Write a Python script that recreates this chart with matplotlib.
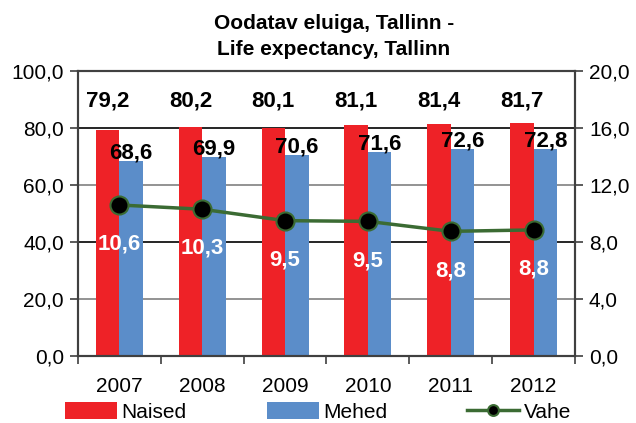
import numpy as np
import matplotlib
matplotlib.use("Agg")
import matplotlib.pyplot as plt

plt.rcParams['font.family'] = ['Liberation Sans', 'DejaVu Sans']

years = ['2007', '2008', '2009', '2010', '2011', '2012']
naised = [79.2, 80.2, 80.1, 81.1, 81.4, 81.7]
mehed = [68.6, 69.9, 70.6, 71.6, 72.6, 72.8]
vahe = [10.6, 10.3, 9.5, 9.45, 8.75, 8.85]
vahe_labels = ['10,6', '10,3', '9,5', '9,5', '8,8', '8,8']

red = '#EE2227'
blue = '#5B8DC9'
green = '#3B6B33'

fig = plt.figure(figsize=(6.36, 4.23), dpi=100)
ax = fig.add_axes([0.1226, 0.1584, 0.9041 - 0.1226, 0.832 - 0.1584])
ax2 = ax.twinx()

x = np.arange(len(years))
w = 0.284
ax.bar(x - w / 2, naised, w, color=red, zorder=2, label='Naised')
ax.bar(x + w / 2, mehed, w, color=blue, zorder=2, label='Mehed')

for i in range(len(years)):
    ax.text(x[i] - w / 2, 89.5, f"{naised[i]:.1f}".replace('.', ','), ha='center', va='center',
            fontsize=16, fontweight='bold', zorder=5)
    ax.text(x[i] + w / 2, mehed[i] + 2.8, f"{mehed[i]:.1f}".replace('.', ','), ha='center', va='center',
            fontsize=16, fontweight='bold', zorder=5)

ax.set_xlim(-0.5, len(years) - 0.5)
ax.set_ylim(0, 100)
ax.set_yticks(np.arange(0, 101, 20))
ax.set_yticklabels([f"{v:.1f}".replace('.', ',') for v in np.arange(0, 101, 20)], fontsize=15)

# gridlines: gray and black alternate like in the original
for v, c in [(20, '#808080'), (40, 'black'), (60, '#808080'), (80, 'black')]:
    ax.axhline(v, color=c, lw=1.2, zorder=1)

ax.set_xticks(x)
ax.set_xticklabels(years, fontsize=15)
ax.tick_params(axis='x', which='major', length=0, pad=15)
ax.set_xticks(np.arange(-0.5, len(years), 1), minor=True)
ax.tick_params(axis='x', which='minor', length=6, width=1.2, color='#404040', direction='out')
ax.tick_params(axis='y', length=6, width=1.2, color='#404040', pad=4)

ln, = ax2.plot(x, vahe, color=green, lw=2.5, marker='o', markersize=13,
               markerfacecolor='black', markeredgecolor=green, markeredgewidth=1.5,
               zorder=4, label='Vahe')
for i in range(len(years)):
    ax2.text(x[i], vahe[i] - 2.75, vahe_labels[i], ha='center', va='center', color='white',
             fontsize=16, fontweight='bold', zorder=5)
ax2.set_ylim(0, 20)
ax2.set_yticks(np.arange(0, 21, 4))
ax2.set_yticklabels([f"{v:.1f}".replace('.', ',') for v in np.arange(0, 21, 4)], fontsize=15)
ax2.tick_params(axis='y', length=6, width=1.2, color='#404040', pad=4)

for a in (ax, ax2):
    for s in a.spines.values():
        s.set_color('#404040')
        s.set_linewidth(1.5)

fig.text(0.525, 0.945, 'Oodatav eluiga, Tallinn -', ha='center', va='center',
         fontsize=15, fontweight='bold')
fig.text(0.525, 0.882, 'Life expectancy, Tallinn', ha='center', va='center',
         fontsize=15, fontweight='bold')

handles = [ax.containers[0], ax.containers[1], ln]
fig.legend(handles, ['Naised', 'Mehed', 'Vahe'], loc='lower center', bbox_to_anchor=(0.5, -0.022),
           ncol=3, frameon=False, fontsize=15, handlelength=2.5, handleheight=0.9,
           handletextpad=0.2, columnspacing=3.85, markerscale=0.6, borderpad=0)

fig.savefig('out.png', dpi=100)
